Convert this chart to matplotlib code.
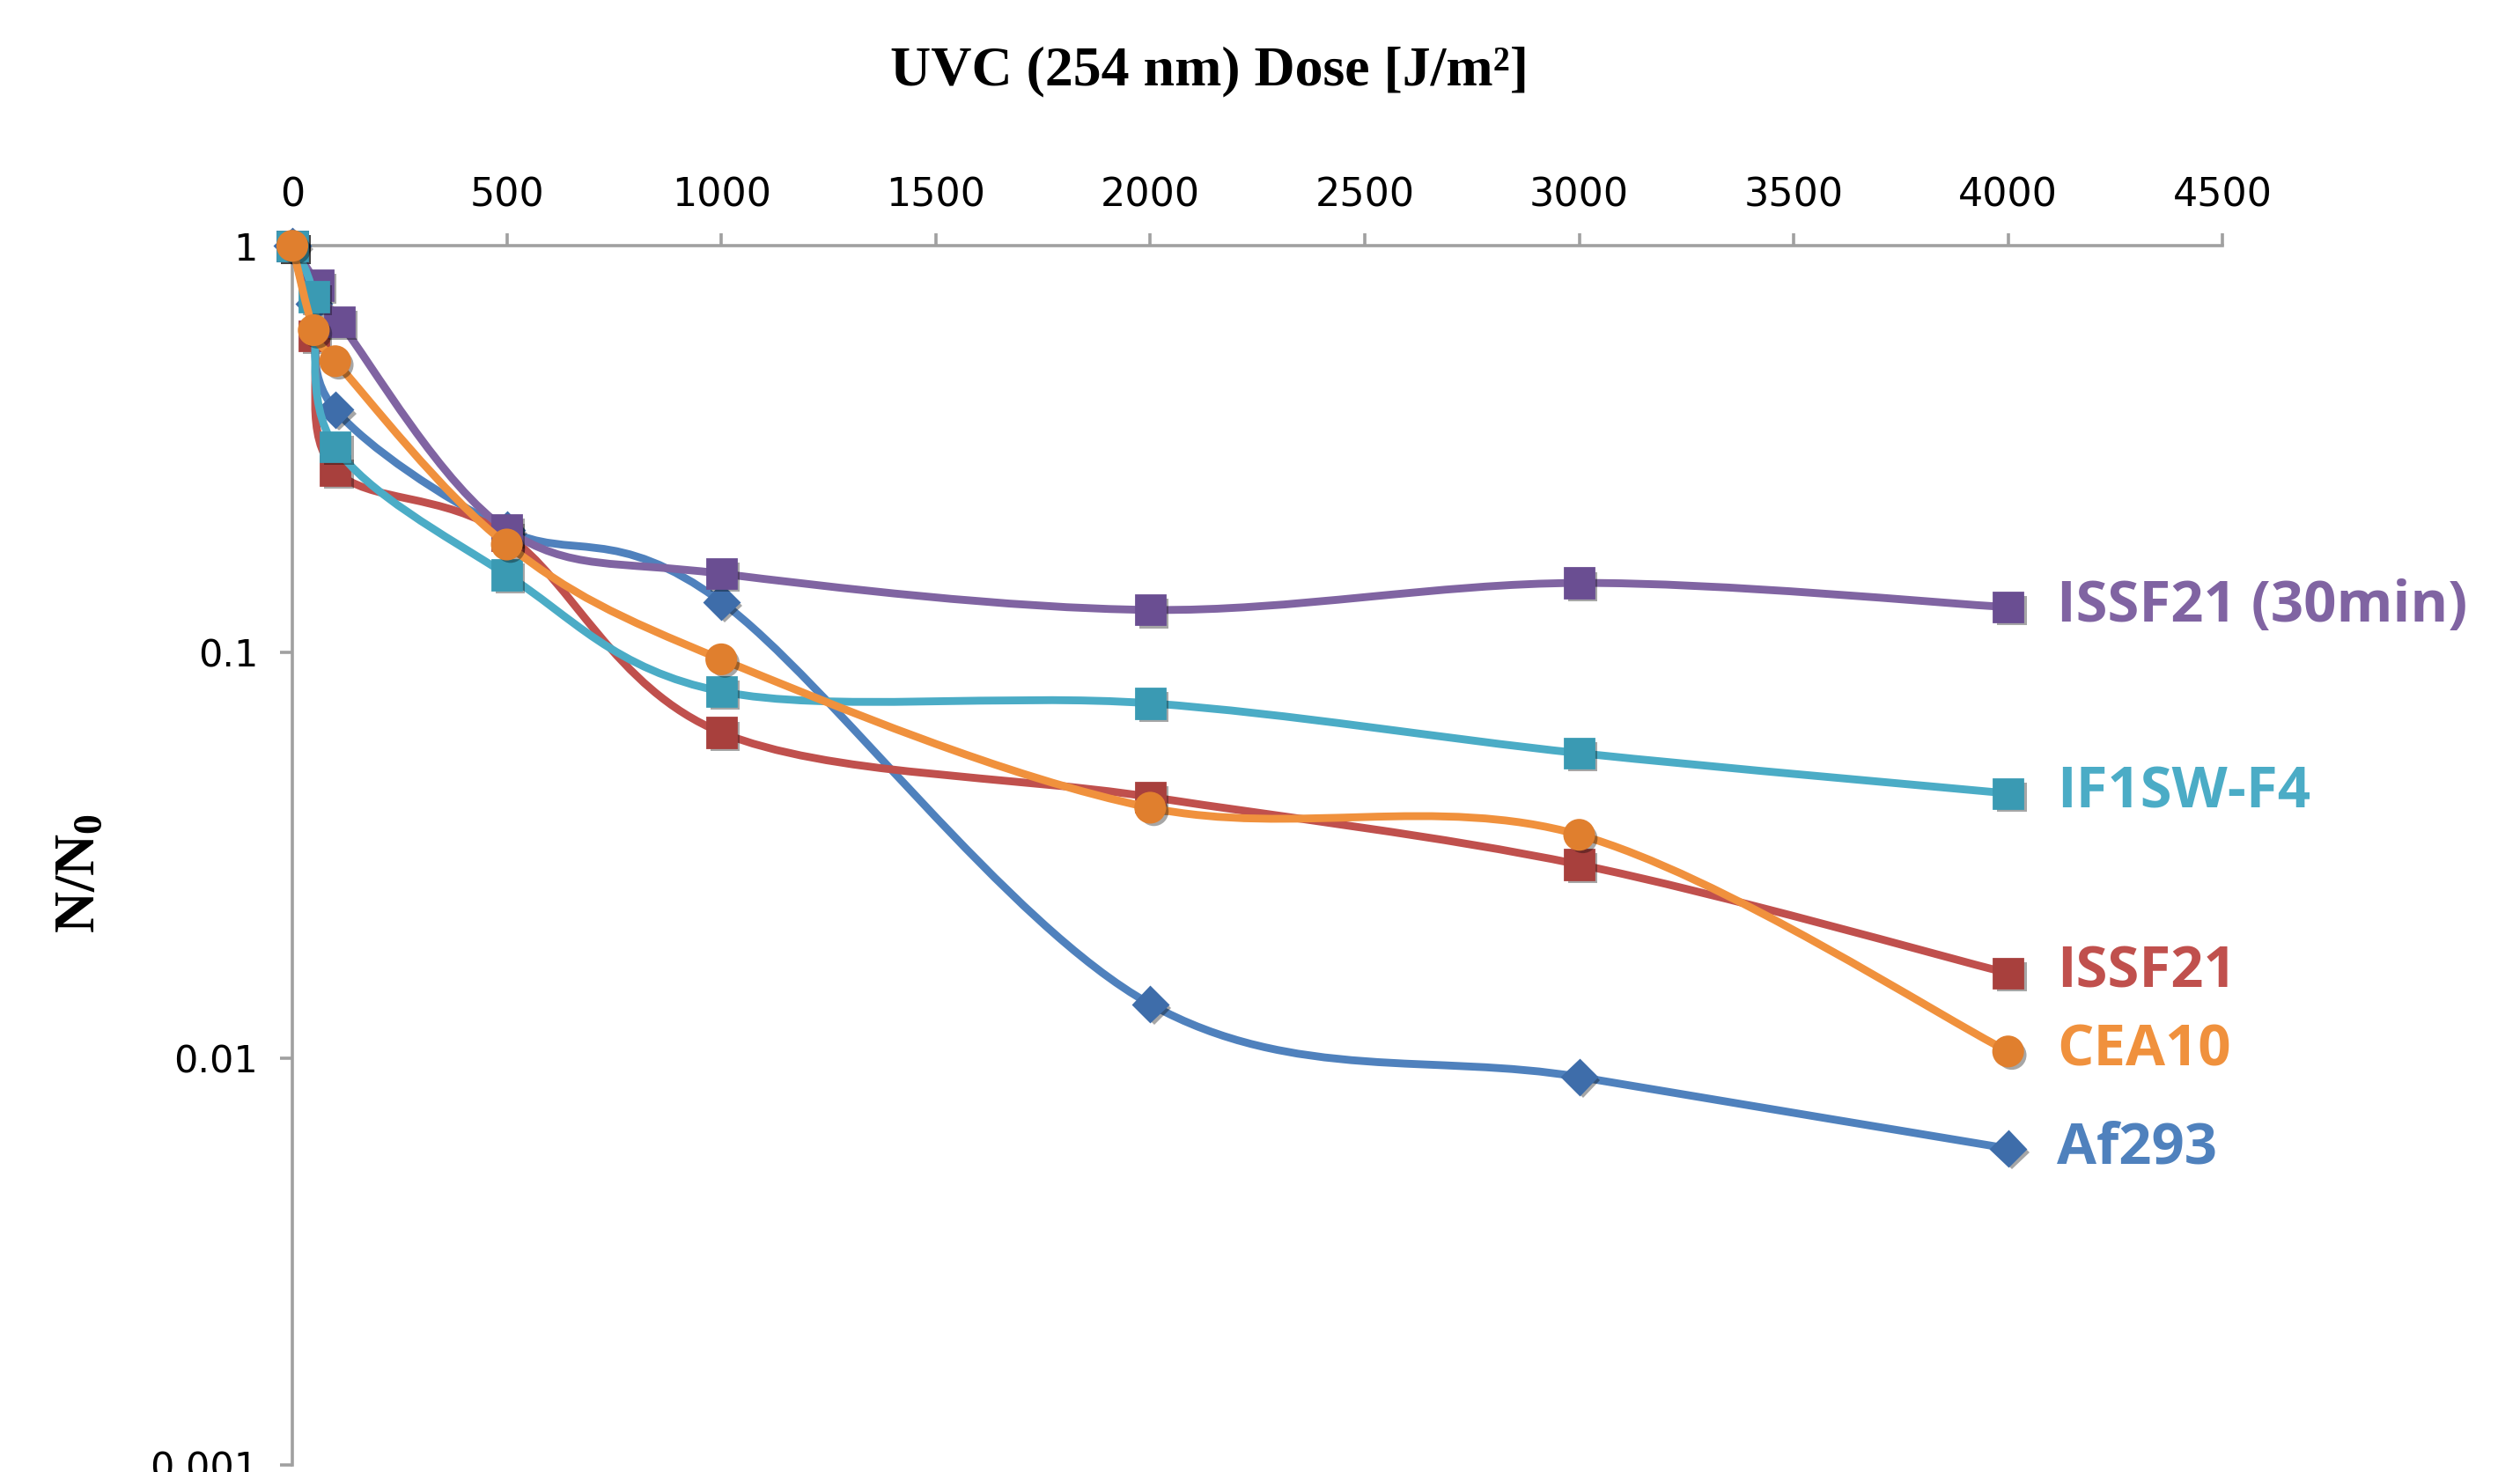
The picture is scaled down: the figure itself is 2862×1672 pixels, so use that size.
import numpy as np
import matplotlib
matplotlib.use("Agg")
import matplotlib.pyplot as plt
from matplotlib.path import Path
from matplotlib.patches import PathPatch
from matplotlib.ticker import FixedLocator, FixedFormatter, NullLocator
import matplotlib.patheffects as pe

plt.rcParams['mathtext.fontset'] = 'custom'
plt.rcParams['mathtext.bf'] = 'Liberation Serif:bold'
plt.rcParams['mathtext.rm'] = 'Liberation Serif:bold'

# data (dose in J/m2, surviving fraction N/N0)
af293_x = [0, 50, 100, 500, 1000, 2000, 3000, 4000]
af293_y = [1.0, 0.72, 0.395, 0.20, 0.133, 0.0136, 0.0090, 0.0060]

cea10_x = [0, 50, 100, 500, 1000, 2000, 3000, 4000]
cea10_y = [1.0, 0.62, 0.52, 0.184, 0.096, 0.0414, 0.0355, 0.0104]

issf21_x = [0, 50, 100, 500, 1000, 2000, 3000, 4000]
issf21_y = [1.0, 0.60, 0.28, 0.194, 0.0634, 0.044, 0.030, 0.0162]

if1sw_x = [0, 50, 100, 500, 1000, 2000, 3000, 4000]
if1sw_y = [1.0, 0.75, 0.32, 0.155, 0.080, 0.0748, 0.0564, 0.0449]

issf30_x = [0, 60, 110, 500, 1000, 2000, 3000, 4000]
issf30_y = [1.0, 0.80, 0.65, 0.20, 0.156, 0.127, 0.148, 0.129]

x_ticks = [0, 500, 1000, 1500, 2000, 2500, 3000, 3500, 4000, 4500]
y_ticks = [0.001, 0.01, 0.1, 1]
y_tick_labels = ['0.001', '0.01', '0.1', '1']

# (name, x, y, line colour, marker colour, marker, marker size)
series = [
    ('Af293', af293_x, af293_y, '#4F81BD', '#3E6DAA', 'D', 10),
    ('ISSF21', issf21_x, issf21_y, '#C0504D', '#A8403D', 's', 12),
    ('ISSF21 (30min)', issf30_x, issf30_y, '#8064A2', '#6A4E92', 's', 12),
    ('IF1SW-F4', if1sw_x, if1sw_y, '#4BACC6', '#3A9AB3', 's', 12),
    ('CEA10', cea10_x, cea10_y, '#F0913D', '#E07F2E', 'o', 12),
]


def smooth_path(xs, ys):
    # Excel-style smoothed line: cubic Bezier segments (Catmull-Rom tangents)
    px = np.asarray(xs, float)
    py = np.log10(np.asarray(ys, float))
    n = len(px)
    verts = [(px[0], py[0])]
    codes = [Path.MOVETO]
    for i in range(n - 1):
        a = max(i - 1, 0)
        d = min(i + 2, n - 1)
        c1 = (px[i] + (px[i + 1] - px[a]) / 6, py[i] + (py[i + 1] - py[a]) / 6)
        c2 = (px[i + 1] - (px[d] - px[i]) / 6, py[i + 1] - (py[d] - py[i]) / 6)
        verts += [c1, c2, (px[i + 1], py[i + 1])]
        codes += [Path.CURVE4] * 3
    verts = np.array(verts)
    verts[:, 1] = 10 ** verts[:, 1]
    return Path(verts, codes)


fig = plt.figure(figsize=(14.31, 8.36), dpi=200)
ax = fig.add_axes([0.116, 0.005, 0.766, 0.828])
ax.set_yscale('log')
ax.set_xlim(0, 4500)
ax.set_ylim(0.001, 1)

shadow = [pe.SimplePatchShadow(offset=(1.5, -1.5), shadow_rgbFace='k', alpha=0.35), pe.Normal()]

for k, (name, xs, ys, lc, mc, mk, ms) in enumerate(series):
    patch = PathPatch(smooth_path(xs, ys), facecolor='none', edgecolor=lc,
                      lw=3.2, capstyle='round', joinstyle='round', zorder=3 + k, clip_on=False)
    ax.add_patch(patch)
    ax.plot(xs, ys, linestyle='none', marker=mk, ms=ms, mfc=mc, mec=mc,
            zorder=3 + k + 0.5, clip_on=False, path_effects=shadow)
    ax.annotate(name, xy=(xs[-1], ys[-1]), xytext=(20, 0), textcoords='offset points',
                ha='left', va='center', color=lc, fontsize=23.5, fontweight='bold',
                family='Open Sans', annotation_clip=False)

# axes styling: x axis on top, log y on the left
for s in ['bottom', 'right']:
    ax.spines[s].set_visible(False)
for s in ['top', 'left']:
    ax.spines[s].set_color('#A0A0A0')
    ax.spines[s].set_linewidth(1.3)

ax.xaxis.tick_top()
ax.set_xticks(x_ticks)
ax.set_xticklabels([str(t) for t in x_ticks], family=['Liberation Sans Narrow', 'DejaVu Sans'], fontsize=16)
ax.tick_params(axis='x', direction='out', length=5, width=1.3, color='#A0A0A0', pad=8)

ax.yaxis.set_major_locator(FixedLocator(y_ticks))
ax.yaxis.set_major_formatter(FixedFormatter(y_tick_labels))
ax.yaxis.set_minor_locator(NullLocator())
for lab in ax.get_yticklabels():
    lab.set_family('DejaVu Sans')
    lab.set_fontsize(15.5)
ax.tick_params(axis='y', direction='out', length=5, width=1.3, color='#A0A0A0', pad=9)

fig.text(0.48, 0.951, 'UVC (254 nm) Dose [J/m²]', ha='center', va='center',
         family='Liberation Serif', fontweight='bold', fontsize=23)
fig.text(0.031, 0.407, r'$\mathbf{N/N_0}$', ha='center', va='center', rotation=90, fontsize=23.5)

fig.savefig('out.png', dpi=200)
